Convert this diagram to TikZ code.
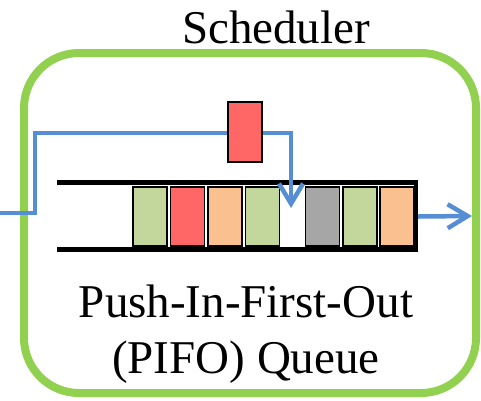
\documentclass[tikz,border=0pt]{standalone}
\usepackage{fontspec}
\setmainfont{Liberation Serif}
\usetikzlibrary{arrows.meta}
\definecolor{frameg}{RGB}{146,208,80}
\definecolor{flowb}{RGB}{85,142,213}
\definecolor{pktg}{RGB}{195,214,155}
\definecolor{pktr}{RGB}{255,102,102}
\definecolor{pkto}{RGB}{250,192,144}
\definecolor{pktk}{RGB}{166,166,166}
\tikzset{
  pkt/.style={draw=black, line width=1.5pt, minimum width=34pt, minimum height=59pt, inner sep=0pt},
  qbar/.style={line width=5pt, black},
  flow/.style={draw=flowb, line width=4.5pt, -{Straight Barb[length=20pt,width=24pt,line width=4.5pt]}},
  lbl/.style={font=\fontsize{47}{56}\selectfont, inner sep=0pt}
}
\begin{document}
\begin{tikzpicture}[x=1pt,y=-1pt]
\useasboundingbox (0,0) rectangle (481,400);
% scheduler frame
\draw[frameg, line width=8pt, rounded corners=55pt] (24,53) rectangle (476,393);
\node[lbl, anchor=base] (title) at (276,43) {Scheduler};
% queue
\coordinate (qtl) at (57,182.5);
\coordinate (qtr) at (418,182.5);
\coordinate (qbl) at (57,249.5);
\coordinate (qbr) at (418,249.5);
\draw[qbar] (qtl) -- (qtr);
\draw[qbar] (qbl) -- (qbr);
\draw[qbar, line width=4pt] (416,180) -- (416,252);
\node[pkt, fill=pktg] (c1) at (150,216.5) {};
\node[pkt, fill=pktr] (c2) at (187.5,216.5) {};
\node[pkt, fill=pkto] (c3) at (225,216.5) {};
\node[pkt, fill=pktg] (c4) at (262.5,216.5) {};
\node[pkt, fill=pktk] (c6) at (322.5,216.5) {};
\node[pkt, fill=pktg] (c7) at (360,216.5) {};
\node[pkt, fill=pkto] (c8) at (397,216.5) {};
% incoming flow
\coordinate (in) at (0,213);
\coordinate (slot) at (291,208);
\draw[flow] (in) -- (35,213) -- (35,133) -- (291,133) -- (slot);
\node[pkt, fill=pktr, minimum height=60pt] (newp) at (245,132) {};
% outgoing flow
\coordinate (out) at (472,216);
\draw[flow] (c8.east -| qtr) -- (out);
\node[lbl, anchor=base, align=center] (qname) at (246,373) {Push-In-First-Out\\(PIFO) Queue};
\end{tikzpicture}
\end{document}
